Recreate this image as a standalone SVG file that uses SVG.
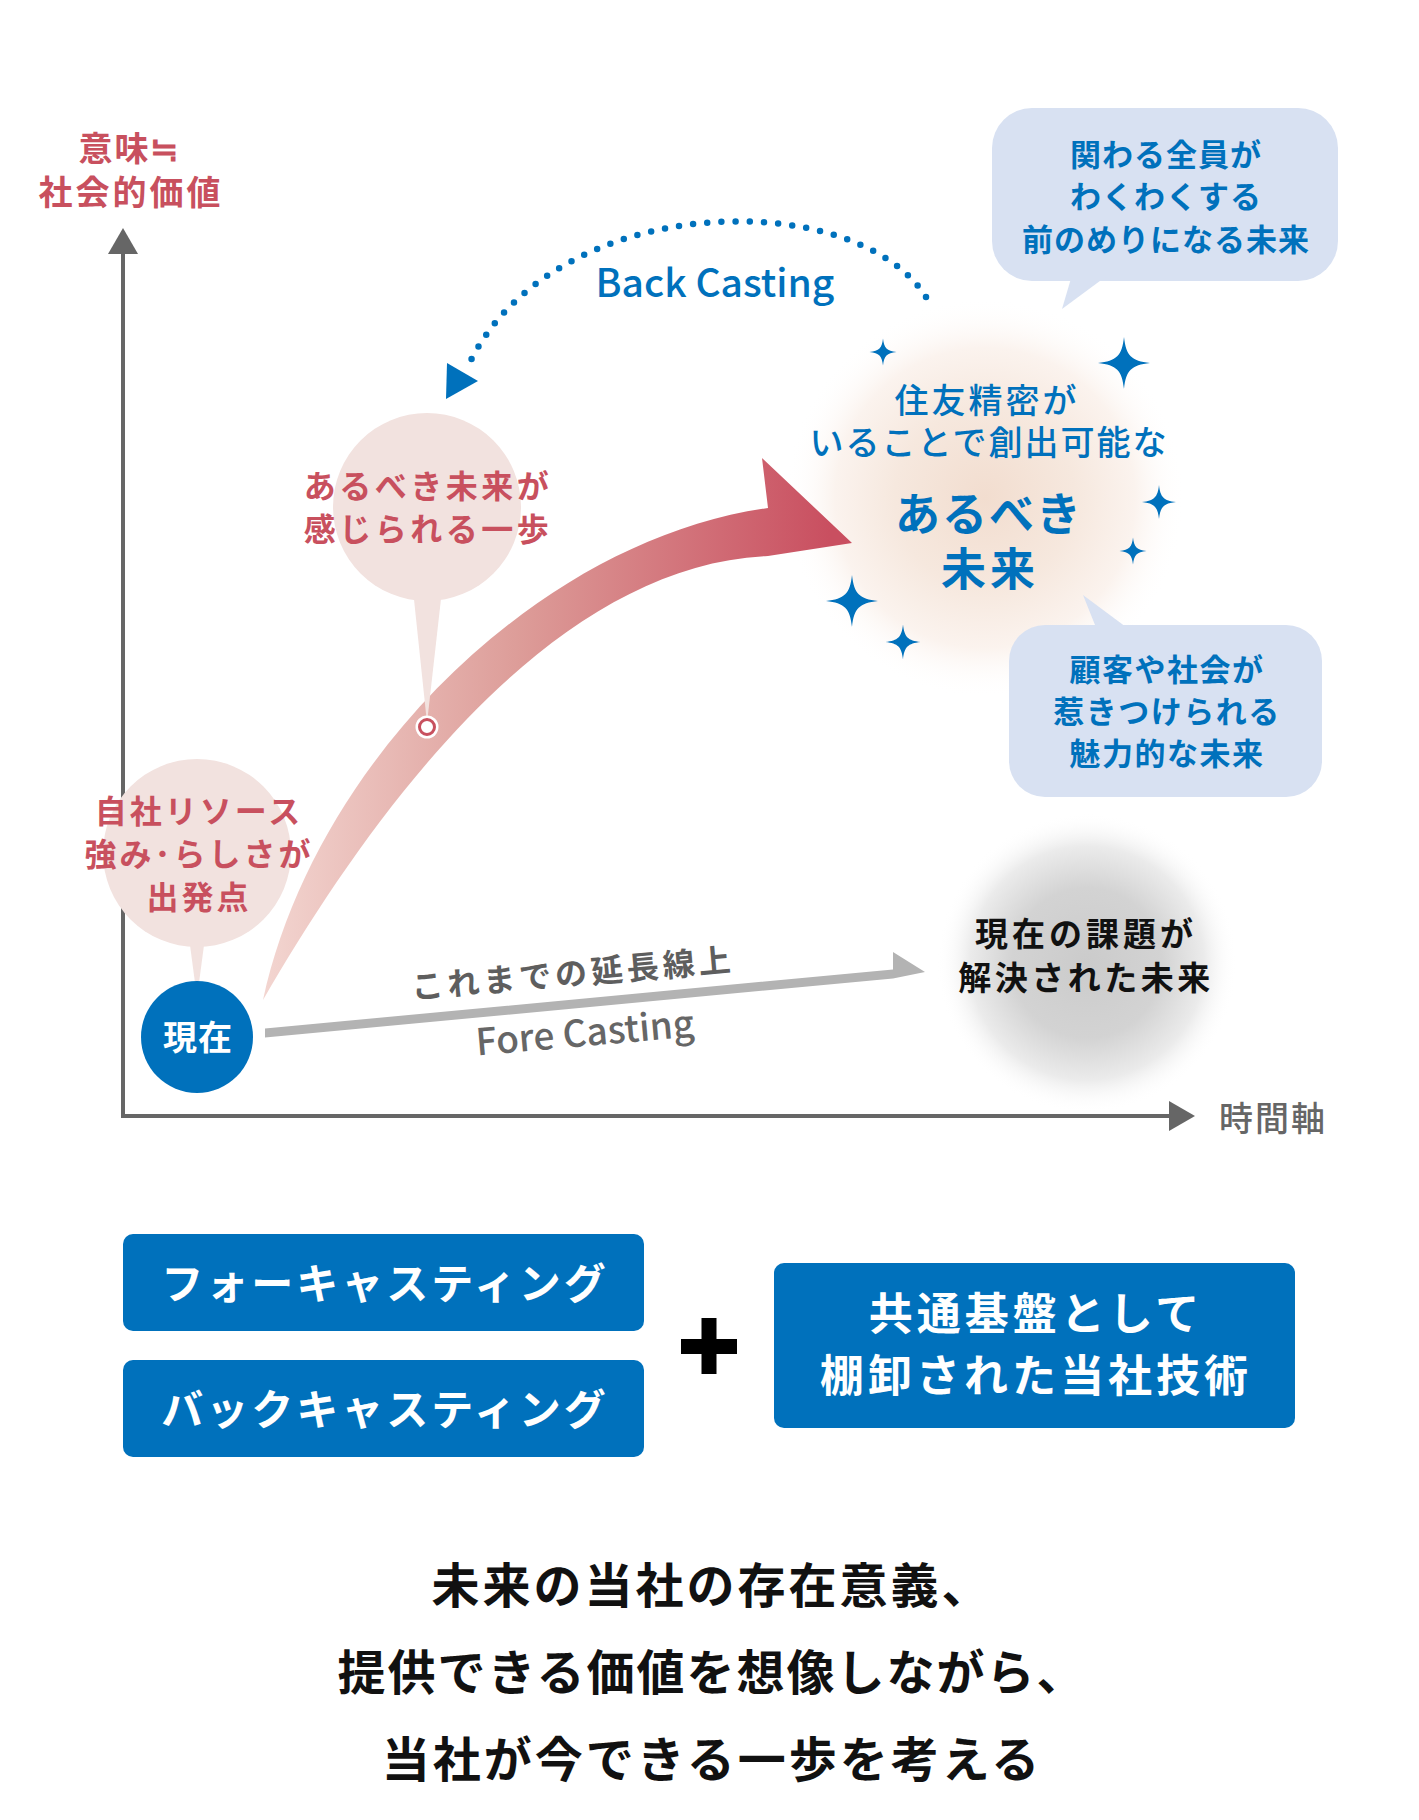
<svg xmlns="http://www.w3.org/2000/svg" width="1419" height="1820" viewBox="0 0 1419 1820">
<style>
text{font-family:"Noto Sans CJK JP","Noto Sans",sans-serif;text-anchor:middle}
.red{fill:#c8505e;font-weight:700}
.blue{fill:#0071bc}
.b{font-weight:700}
.m{font-weight:500}
.wh{fill:#fff;font-weight:700}
.pink{fill:#f2e2df}
.bub{fill:#d8e1f2}
.star{fill:#0071bc}
</style>
<defs>
<path id="spark" d="M0,-1 C0.08,-0.28 0.28,-0.08 1,0 C0.28,0.08 0.08,0.28 0,1 C-0.08,0.28 -0.28,0.08 -1,0 C-0.28,-0.08 -0.08,-0.28 0,-1Z"/>
<linearGradient id="redg" gradientUnits="userSpaceOnUse" x1="260" y1="0" x2="830" y2="0">
<stop offset="0" stop-color="#f3d6d1"/>
<stop offset="0.45" stop-color="#dd9d99"/>
<stop offset="1" stop-color="#c94f60"/>
</linearGradient>
<radialGradient id="peach" cx="0.5" cy="0.5" r="0.5">
<stop offset="0" stop-color="#f2ddcf"/>
<stop offset="0.45" stop-color="#f6e8de"/>
<stop offset="0.75" stop-color="#fbf3ee"/>
<stop offset="1" stop-color="#ffffff" stop-opacity="0"/>
</radialGradient>
<radialGradient id="grayg" cx="0.5" cy="0.5" r="0.5">
<stop offset="0" stop-color="#cbcbcb"/>
<stop offset="0.5" stop-color="#d3d3d3"/>
<stop offset="0.78" stop-color="#ebebeb"/>
<stop offset="1" stop-color="#ffffff" stop-opacity="0"/>
</radialGradient>
</defs>
<rect width="1419" height="1820" fill="#fff"/>

<!-- glows -->
<circle cx="985" cy="498" r="200" fill="url(#peach)"/>
<circle cx="1087" cy="963" r="150" fill="url(#grayg)"/>

<g id="connectors">
  <!-- axes -->
  <path d="M123,1116 V252 M121,1116 H1171" stroke="#666" stroke-width="4" fill="none"/>
  <polygon points="123,228 138,254 108,254" fill="#666"/>
  <polygon points="1195,1116 1169,1101 1169,1131" fill="#666"/>
  <!-- big red arrow -->
  <path d="M263,1000 C315,760 540,540 768,508 L762,458 L852,543 L768,556 C550,565 370,815 263,1000 Z" fill="url(#redg)"/>
  <!-- fore casting arrow -->
  <path d="M265,1028.5 L893,969.5 L893,952 L925,972 L893,978.5 L265,1037.5 Z" fill="#b3b3b3"/>
  <!-- back casting arc -->
  <path d="M926,297 C855,185 555,190 470,362" fill="none" stroke="#0071bc" stroke-width="6.5" stroke-linecap="round" stroke-dasharray="0 14.2"/>
  <polygon points="447,363 478,381 446,399" fill="#0071bc"/>
</g>

<g id="axis-label-y">
  <text class="red" font-size="34" letter-spacing="2" x="130" y="161">意味≒</text>
  <text class="red" font-size="34" letter-spacing="3" x="131" y="205">社会的価値</text>
</g>
<g id="axis-label-x">
  <text font-size="34" letter-spacing="2" x="1273" y="1131" fill="#666" font-weight="500">時間軸</text>
</g>

<g id="node-strength">
  <circle class="pink" cx="197" cy="853" r="94"/>
  <polygon class="pink" points="188,930 206,930 197,998"/>
  <text class="red" font-size="32" letter-spacing="3" x="199" y="823">自社リソース</text>
  <text class="red" font-size="32" letter-spacing="3" x="199" y="866">強み･らしさが</text>
  <text class="red" font-size="32" letter-spacing="3" x="199" y="909">出発点</text>
</g>

<g id="node-now">
  <circle cx="197" cy="1037" r="56" fill="#0071bc"/>
  <text class="wh" font-size="34" letter-spacing="1" x="198" y="1050">現在</text>
</g>

<g id="node-step">
  <circle class="pink" cx="427" cy="507" r="94"/>
  <polygon class="pink" points="413,590 442,590 427,723"/>
  <text class="red" font-size="32" letter-spacing="3.5" x="428" y="498">あるべき未来が</text>
  <text class="red" font-size="32" letter-spacing="3.5" x="428" y="541">感じられる一歩</text>
  <circle cx="427" cy="727" r="11.5" fill="#fff"/>
  <circle cx="427" cy="727" r="7.5" fill="#fff" stroke="#c8505e" stroke-width="3"/>
</g>

<g id="label-backcasting">
  <text class="blue m" font-size="39" x="715" y="297">Back Casting</text>
</g>

<g id="label-forecasting">
  <text font-size="32" letter-spacing="4" font-weight="700" fill="#5e5e5e" x="574" y="985" transform="rotate(-5 574 985)">これまでの延長線上</text>
  <text font-size="37" font-weight="500" fill="#666" x="586" y="1046" transform="rotate(-5 586 1046)">Fore Casting</text>
</g>

<g id="node-ideal">
  <text class="blue m" font-size="34" letter-spacing="3" x="987" y="413">住友精密が</text>
  <text class="blue m" font-size="34" letter-spacing="2" x="989" y="455">いることで創出可能な</text>
  <text class="blue b" font-size="45" letter-spacing="2" x="989" y="531">あるべき</text>
  <text class="blue b" font-size="45" letter-spacing="4" x="990" y="586">未来</text>
</g>

<g id="sparkles">
  <use href="#spark" class="star" transform="translate(883,352) scale(13.5)"/>
  <use href="#spark" class="star" transform="translate(1124,363) scale(26)"/>
  <use href="#spark" class="star" transform="translate(1159,502) scale(17)"/>
  <use href="#spark" class="star" transform="translate(1133,551) scale(13.5)"/>
  <use href="#spark" class="star" transform="translate(852,601) scale(26)"/>
  <use href="#spark" class="star" transform="translate(903,642) scale(17.5)"/>
</g>

<g id="bubble-everyone">
  <rect class="bub" x="992" y="108" width="346" height="173" rx="40"/>
  <polygon class="bub" points="1072,275 1108,275 1062,309"/>
  <text class="blue b" font-size="31" letter-spacing="1" x="1166" y="166">関わる全員が</text>
  <text class="blue b" font-size="31" letter-spacing="1" x="1166" y="208">わくわくする</text>
  <text class="blue b" font-size="31" letter-spacing="1" x="1166" y="251">前のめりになる未来</text>
</g>

<g id="bubble-customers">
  <rect class="bub" x="1009" y="625" width="313" height="172" rx="36"/>
  <polygon class="bub" points="1083,595 1097,630 1130,630"/>
  <text class="blue b" font-size="31" letter-spacing="1.5" x="1167" y="681">顧客や社会が</text>
  <text class="blue b" font-size="31" letter-spacing="1.5" x="1167" y="723">惹きつけられる</text>
  <text class="blue b" font-size="31" letter-spacing="1.5" x="1167" y="765">魅力的な未来</text>
</g>

<g id="node-solved">
  <text font-size="33" letter-spacing="4" font-weight="700" fill="#111" x="1086" y="946">現在の課題が</text>
  <text font-size="33" letter-spacing="3.5" font-weight="700" fill="#111" x="1086" y="990">解決された未来</text>
</g>

<g id="box-forecasting">
  <rect x="123" y="1234" width="521" height="97" rx="10" fill="#0071bc"/>
  <text class="wh" font-size="42" letter-spacing="3" x="385" y="1299">フォーキャスティング</text>
</g>
<g id="box-backcasting">
  <rect x="123" y="1360" width="521" height="97" rx="10" fill="#0071bc"/>
  <text class="wh" font-size="42" letter-spacing="3" x="385" y="1425">バックキャスティング</text>
</g>
<g id="plus">
  <rect x="681" y="1339" width="56" height="15" fill="#000"/>
  <rect x="701.5" y="1318" width="15" height="56" fill="#000"/>
</g>
<g id="box-tech">
  <rect x="774" y="1263" width="521" height="165" rx="10" fill="#0071bc"/>
  <text class="wh" font-size="44" letter-spacing="4" x="1036" y="1330">共通基盤として</text>
  <text class="wh" font-size="44" letter-spacing="4" x="1036" y="1392">棚卸された当社技術</text>
</g>

<g id="conclusion">
  <text font-size="48" letter-spacing="3" font-weight="700" fill="#111" x="712" y="1603">未来の当社の存在意義、</text>
  <text font-size="48" letter-spacing="2" font-weight="700" fill="#111" x="712" y="1690">提供できる価値を想像しながら、</text>
  <text font-size="48" letter-spacing="3" font-weight="700" fill="#111" x="712" y="1777">当社が今できる一歩を考える</text>
</g>
</svg>
